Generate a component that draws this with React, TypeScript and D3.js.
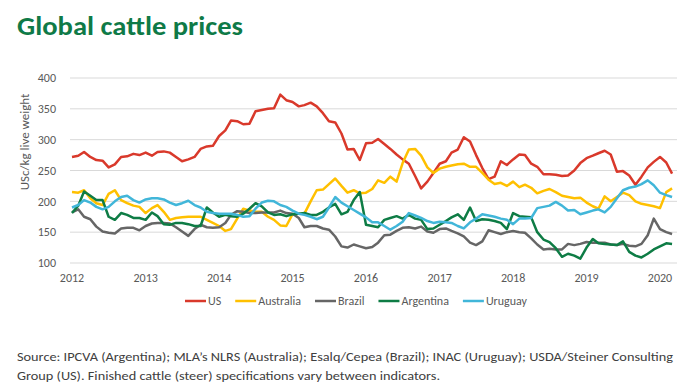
import React, { useEffect, useRef } from "react";
import * as d3 from "d3";

const W = 700;
const H = 390;

// monthly, Jan 2012 .. Mar 2020 (US cents / kg live weight)
const months = d3.timeMonth.range(new Date(2012, 0, 1), new Date(2020, 3, 1));

const usPrices = [
  272, 274, 280, 272, 267, 266, 255, 260, 272, 273, 277, 275,
  279, 274, 280, 281, 279, 272, 265, 268, 272, 285, 289, 290,
  306, 315, 331, 330, 325, 326, 346, 348, 350, 351, 373, 364,
  361, 354, 356, 360, 354, 343, 330, 328, 310, 284, 285, 267,
  294, 295, 301, 293, 285, 276, 268, 261, 241, 221, 232, 246,
  261, 265, 279, 284, 304, 297, 275, 254, 236, 240, 265, 259,
  268, 276, 275, 261, 256, 244, 244, 243, 241, 242, 250, 262,
  270, 274, 278, 282, 276, 248, 249, 242, 227, 240, 255, 264,
  272, 263, 245,
];

const australiaPrices = [
  215, 214, 218, 205, 197, 194, 212, 218, 202, 197, 193, 191,
  181, 189, 194, 183, 170, 173, 174, 175, 175, 175, 170, 165,
  160, 152, 155, 172, 188, 185, 183, 183, 175, 170, 161, 160,
  179, 180, 180, 200, 218, 219, 228, 237, 225, 214, 218, 213,
  214, 220, 234, 230, 240, 232, 262, 284, 285, 274, 255, 246,
  253, 256, 258, 260, 261, 256, 256, 246, 235, 228, 230, 225,
  232, 223, 227, 222, 213, 217, 220, 215, 209, 207, 205, 206,
  198, 192, 188, 208, 200, 207, 214, 210, 200, 196, 194, 192,
  189, 215, 221,
];

const brazilPrices = [
  182, 187, 175, 171, 159, 151, 149, 148, 156, 157, 157, 153,
  160, 164, 165, 165, 164, 158, 151, 144, 155, 162, 158, 157,
  158, 165, 178, 184, 183, 181, 181, 182, 182, 182, 185, 181,
  180, 173, 158, 160, 160, 156, 154, 143, 127, 125, 130, 127,
  124, 126, 133, 145, 146, 152, 157, 158, 156, 159, 151, 149,
  155, 156, 152, 148, 143, 133, 129, 135, 153, 150, 147, 150,
  152, 150, 149, 140, 130, 122, 123, 122, 122, 131, 129, 131,
  134, 133, 133, 133, 130, 129, 131, 128, 127, 131, 145, 172,
  155, 150, 147,
];

const argentinaPrices = [
  181, 193, 216, 209, 202, 202, 175, 170, 181, 178, 173, 173,
  170, 182, 176, 163, 162, 165, 165, 163, 160, 160, 190, 182,
  175, 178, 176, 175, 180, 188, 197, 192, 182, 178, 179, 176,
  179, 180, 181, 178, 178, 183, 190, 196, 179, 183, 202, 215,
  162, 160, 158, 170, 173, 176, 172, 178, 172, 170, 155, 156,
  162, 168, 174, 179, 170, 190, 168, 171, 170, 168, 165, 155,
  181, 176, 175, 174, 150, 138, 134, 124, 110, 115, 112, 107,
  125, 139, 132, 131, 130, 129, 135, 118, 112, 109, 115, 122,
  127, 132, 131,
];

const uruguayPrices = [
  190, 194, 202, 198, 191, 187, 191, 200, 207, 209, 202, 198,
  203, 205, 205, 203, 198, 194, 197, 201, 194, 190, 183, 181,
  180, 180, 180, 178, 175, 176, 188, 198, 201, 200, 194, 191,
  185, 180, 178, 175, 171, 175, 190, 207, 198, 192, 186, 180,
  174, 166, 166, 160, 154, 160, 167, 181, 177, 173, 168, 165,
  167, 166, 165, 160, 156, 166, 172, 179, 177, 175, 172, 170,
  163, 172, 172, 173, 189, 191, 193, 199, 193, 185, 186, 179,
  182, 185, 187, 182, 191, 205, 218, 222, 224, 228, 234, 226,
  214, 210, 207,
];

const seriesNames = ["US", "Australia", "Brazil", "Argentina", "Uruguay"];
const seriesValues = [usPrices, australiaPrices, brazilPrices, argentinaPrices, uruguayPrices];
const seriesColors = ["#d9392b", "#ffc000", "#666666", "#0e7c45", "#41b6d9"];

const yTicks = [100, 150, 200, 250, 300, 350, 400];
const xTickYears = [2012, 2013, 2014, 2015, 2016, 2017, 2018, 2019, 2020];

const sourceLines = [
  "Source: IPCVA (Argentina); MLA\u2019s NLRS (Australia); Esalq/Cepea (Brazil); INAC (Uruguay); USDA/Steiner Consulting",
  "Group (US). Finished cattle (steer) specifications vary between indicators.",
];

const FONT = "Carlito, Lato, 'Open Sans', sans-serif";

const CattleChart = () => {
  const ref = useRef<SVGSVGElement>(null);

  useEffect(() => {
    const svg = d3.select(ref.current);
    svg.selectAll("*").remove();
    svg.style("font-family", FONT);

    const x = d3
      .scaleTime()
      .domain([new Date(2012, 0, 1), new Date(2020, 0, 1)])
      .range([72, 660]);
    const y = d3.scaleLinear().domain([100, 400]).range([263, 78]);

    // title
    svg.append("text")
      .attr("x", 17)
      .attr("y", 35)
      .attr("fill", "#0f7a47")
      .attr("font-size", 26)
      .attr("font-weight", 700)
      .attr("textLength", 226)
      .attr("lengthAdjust", "spacingAndGlyphs")
      .text("Global cattle prices");

    // gridlines
    svg.append("g")
      .selectAll("line")
      .data(yTicks)
      .join("line")
      .attr("x1", 70)
      .attr("x2", 677)
      .attr("y1", d => y(d))
      .attr("y2", d => y(d))
      .attr("stroke", "#d9d9d9")
      .attr("stroke-width", 1);

    // y tick labels
    svg.append("g")
      .selectAll("text")
      .data(yTicks)
      .join("text")
      .attr("x", 56)
      .attr("y", d => y(d))
      .attr("dy", "0.35em")
      .attr("text-anchor", "end")
      .attr("font-size", 12)
      .attr("fill", "#595959")
      .text(d => d);

    // x tick labels
    svg.append("g")
      .selectAll("text")
      .data(xTickYears)
      .join("text")
      .attr("x", d => x(new Date(d, 0, 1)))
      .attr("y", 282)
      .attr("text-anchor", "middle")
      .attr("font-size", 12)
      .attr("fill", "#595959")
      .text(d => d);

    // y axis title
    svg.append("text")
      .attr("transform", "translate(29,142) rotate(-90)")
      .attr("text-anchor", "middle")
      .attr("font-size", 13)
      .attr("fill", "#595959")
      .text("USc/kg live weight");

    // lines
    const line = d3
      .line<number>()
      .x((_, i) => x(months[i]))
      .y(d => y(d));

    svg.append("g")
      .selectAll("path")
      .data(seriesValues)
      .join("path")
      .attr("d", d => line(d))
      .attr("fill", "none")
      .attr("stroke", (_, i) => seriesColors[i])
      .attr("stroke-width", 2.5)
      .attr("stroke-linejoin", "round");

    // legend
    const legend = svg.append("g");
    let cx = 0;
    seriesNames.forEach((name, i) => {
      const item = legend.append("g").attr("transform", `translate(${cx},0)`);
      item.append("line")
        .attr("x1", 0)
        .attr("x2", 21)
        .attr("y1", 0)
        .attr("y2", 0)
        .attr("stroke", seriesColors[i])
        .attr("stroke-width", 2.5);
      const t = item.append("text")
        .attr("x", 23)
        .attr("dy", "0.35em")
        .attr("font-size", 12)
        .attr("fill", "#595959")
        .text(name);
      const tw = (t.node() as SVGTextElement).getComputedTextLength();
      cx += 23 + tw + 14;
    });
    const total = cx - 14;
    legend.attr("transform", `translate(${356 - total / 2},301)`);

    // source note
    svg.append("g")
      .selectAll("text")
      .data(sourceLines)
      .join("text")
      .attr("x", 17)
      .attr("y", (_, i) => 361 + i * 19)
      .attr("font-size", 13)
      .attr("fill", "#404040")
      .attr("textLength", (_, i) => (i === 0 ? 656 : 423))
      .attr("lengthAdjust", "spacingAndGlyphs")
      .text(d => d);
  }, []);

  return (
    <svg
      ref={ref}
      width={W}
      height={H}
      style={{ position: "absolute", left: 0, top: 0, background: "#fff" }}
    />
  );
};

export default function App() {
  return <CattleChart />;
}
